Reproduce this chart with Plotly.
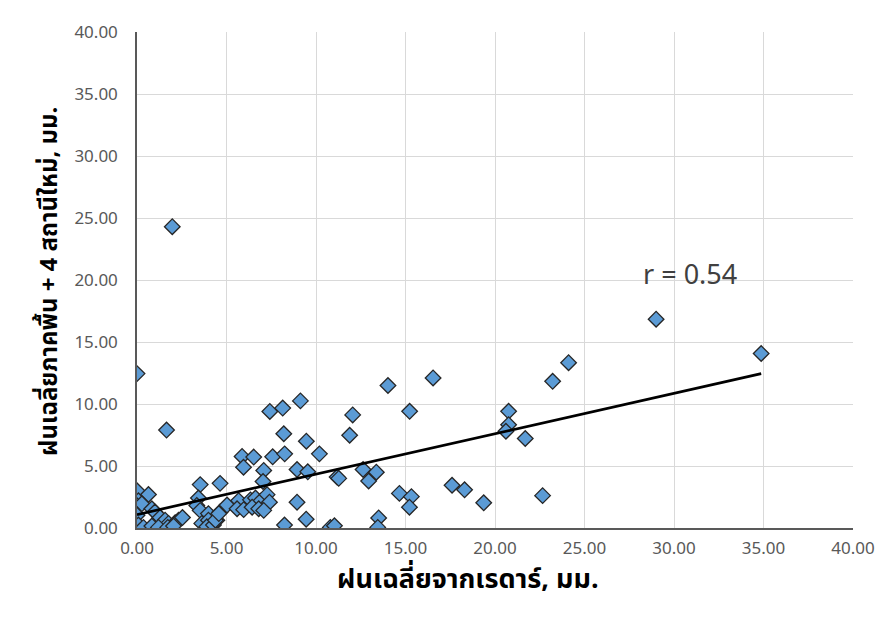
import numpy as np
import plotly.graph_objects as go

# Radar average rainfall (mm) vs ground + 4 new stations average rainfall (mm)
radar_mm = [
    0.00, 1.97, 1.65,
    0.00, 0.64, 0.08, 0.00, 0.27, 0.00, 0.83, 1.00, 1.29, 1.57, 1.76, 2.13, 2.32, 2.54,
    0.08, 0.36, 0.83, 1.20, 1.72, 2.04,
    3.53, 4.64, 3.43, 3.34, 3.53, 3.99, 3.62, 3.99, 3.90, 4.27, 4.46, 4.64, 4.38, 4.57,
    5.03, 5.68, 5.59, 5.96, 6.34, 6.62, 6.90, 7.27, 7.40, 6.43, 6.80, 7.08,
    5.87, 6.52, 7.58, 8.25, 5.95, 7.08, 7.04, 8.94, 9.54, 7.42, 8.14, 9.13, 8.20, 9.46,
    8.94, 8.24, 9.45, 10.19,
    14.02, 12.05, 15.23, 11.88, 11.18, 11.27, 12.63, 13.37, 12.94, 14.66, 15.33, 15.22,
    10.80, 11.03, 13.50, 13.45, 16.54,
    20.76, 20.76, 20.61, 21.69, 17.60, 18.30, 19.37, 22.66, 29.00, 34.87, 24.11, 23.22,
]
ground_mm = [
    12.45, 24.30, 7.90,
    3.00, 2.70, 2.20, 1.80, 1.95, 1.03, 1.55, 1.29, 0.84, 0.63, 0.37, 0.42, 0.63, 0.84,
    0.24, 0.05, 0.16, 0.05, 0.05, 0.16,
    3.50, 3.60, 2.42, 1.82, 1.42, 1.16, 0.37, 0.63, 0.10, 0.24, 0.63, 1.29, 0.63, 1.16,
    1.85, 2.21, 1.55, 1.48, 2.27, 2.42, 2.16, 2.69, 2.08, 1.68, 1.55, 1.42,
    5.77, 5.72, 5.74, 5.98, 4.90, 4.64, 3.75, 4.72, 4.53, 9.40, 9.67, 10.25, 7.60, 7.00,
    2.08, 0.24, 0.71, 5.98,
    11.49, 9.12, 9.41, 7.48, 4.11, 4.00, 4.72, 4.50, 3.79, 2.79, 2.53, 1.68,
    0.05, 0.18, 0.81, 0.05, 12.10,
    9.41, 8.33, 7.80, 7.22, 3.45, 3.08, 2.03, 2.61, 16.84, 14.07, 13.33, 11.83,
]
# linear trendline as drawn in the chart
trend_intercept = 1.08
trend_slope = 0.326

tick_vals = [0, 5, 10, 15, 20, 25, 30, 35, 40]
x_title = "ฝนเฉลี่ยจากเรดาร์, มม."
y_title = "ฝนเฉลี่ยภาคพื้น + 4 สถานีใหม่, มม."
r_label = "r = 0.54"

xs = np.array(radar_mm)
line_x = np.array([xs.min(), xs.max()])
line_y = trend_slope * line_x + trend_intercept

fig = go.Figure()
fig.add_trace(go.Scatter(
    x=radar_mm, y=ground_mm, mode="markers",
    marker=dict(symbol="diamond", size=12, color="#5B9BD5",
                line=dict(color="#262626", width=1.3)),
    showlegend=False, hoverinfo="x+y",
))
fig.add_trace(go.Scatter(
    x=line_x, y=line_y, mode="lines",
    line=dict(color="#000000", width=2.7),
    showlegend=False, hoverinfo="skip",
))

tick_font = dict(family="Noto Sans, Open Sans, sans-serif", size=17, color="#595959")


def px(page_x):
    return (page_x - 137) / 716


def py(page_y):
    return (528 - page_y) / 506


fig.update_layout(
    width=884, height=623,
    margin=dict(l=129, r=39, t=14, b=103),
    paper_bgcolor="white", plot_bgcolor="white",
    xaxis=dict(range=[0, 40], tickvals=tick_vals, tickformat=".2f",
               showgrid=True, gridcolor="#D9D9D9", gridwidth=1,
               showline=True, linecolor="#595959", linewidth=1.5,
               zeroline=False, ticks="", tickfont=tick_font, ticklabelstandoff=4),
    yaxis=dict(range=[0, 40], tickvals=tick_vals, tickformat=".2f",
               showgrid=True, gridcolor="#D9D9D9", gridwidth=1,
               showline=True, linecolor="#595959", linewidth=1.5,
               zeroline=False, ticks="", tickfont=tick_font, ticklabelstandoff=14),
    annotations=[
        dict(text="<b>" + x_title + "</b>", xref="paper", yref="paper",
             x=px(468), y=py(581), xanchor="center", yanchor="middle",
             showarrow=False,
             font=dict(family="Noto Sans Thai, Noto Sans, sans-serif", size=27, color="#000000")),
        dict(text="<b>" + y_title + "</b>", xref="paper", yref="paper",
             x=px(50), y=py(277), xanchor="center", yanchor="middle",
             textangle=-90, showarrow=False,
             font=dict(family="Noto Sans Thai, Noto Sans, sans-serif", size=24, color="#000000")),
        dict(text=r_label, xref="paper", yref="paper",
             x=px(690), y=py(268), xanchor="center", yanchor="middle",
             showarrow=False, font=dict(family="Noto Sans, Open Sans, sans-serif", size=27, color="#404040")),
    ],
)
fig.write_html("out.html")
